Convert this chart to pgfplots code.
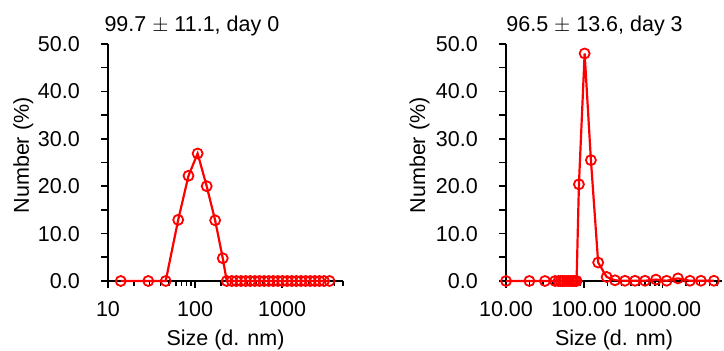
\documentclass[border=0pt]{standalone}
\usepackage{fontspec}
\setmainfont{Liberation Sans}
\usepackage{pgfplots}
\usepackage{pgfplotstable}
\pgfplotsset{compat=1.18}
\pgfplotstableread{
x y
14 0
29 0
46 0
64 12.9
84 22.2
107 26.9
136 20.0
170 12.8
208 4.8
231 0
264 0
298 0
337 0
381 0
430 0
486 0
549 0
620 0
700 0
791 0
894 0
1010 0
1141 0
1289 0
1456 0
1645 0
1858 0
2099 0
2371 0
2679 0
3026 0
3500 0
}\dayzero
\pgfplotstableread{
x y
10 0
19.9 0
31.5 0
42.4 0
47 0
50 0
53 0
56 0
60 0
64 0
68 0
72 0
76 0
80 0
85.7 20.4
101.4 48.0
122 25.5
151 3.9
194 0.85
248 0.15
333 0.05
447 0.05
600 0.05
829 0.3
1135 0.05
1585 0.55
2254 0.05
3120 0.05
4570 0.05
}\daythree
\begin{document}
\fontsize{21.5pt}{25pt}\selectfont
\begin{tikzpicture}
\useasboundingbox (0,0) rectangle (724pt,351pt);
\begin{axis}[at={(108pt,70pt)}, anchor=south west, width=235pt,
  scale only axis, xmode=log,
  ymin=0, ymax=50, height=237pt,
  axis x line=bottom, axis y line=left,
  axis line style={-, line width=2pt, black},
  tick align=outside, major tick length=7pt, minor tick length=5pt,
  tick style={black, line width=1.6pt},
  ytick={0,5,...,50},
  yticklabels={0.0,,10.0,,20.0,,30.0,,40.0,,50.0},
  xtick={10,100,1000},
  minor xtick={20,30,40,50,60,70,80,90,200,300,400,500,600,700,800,900,2000,3000,4000,5000},
  clip=false,
  xlabel={Size (d. nm)}, ylabel={Number (\%)},
  xlabel style={at={(axis description cs:0.5,-0.25)}, anchor=center},
  xticklabel style={anchor=base, yshift=-29pt},
  yticklabel style={anchor=east, inner xsep=0pt, text depth=0pt, align=right, xshift=-21pt},
  xmin=10, xmax=5000, xticklabels={10,100,1000},
  ylabel style={at={(axis description cs:-0.36,0.53)}, anchor=center}]
\addplot[red, line width=2.2pt, mark=o, mark size=5pt, mark options={line width=1.8pt, solid}] table[x=x,y=y] {\dayzero};
\node[anchor=base, yshift=12pt] at (axis description cs:0.357,1) {99.7 $\pm$ 11.1, day 0};
\end{axis}
\begin{axis}[at={(506pt,70pt)}, anchor=south west, width=216pt,
  scale only axis, xmode=log,
  ymin=0, ymax=50, height=237pt,
  axis x line=bottom, axis y line=left,
  axis line style={-, line width=2pt, black},
  tick align=outside, major tick length=7pt, minor tick length=5pt,
  tick style={black, line width=1.6pt},
  ytick={0,5,...,50},
  yticklabels={0.0,,10.0,,20.0,,30.0,,40.0,,50.0},
  xtick={10,100,1000},
  minor xtick={20,30,40,50,60,70,80,90,200,300,400,500,600,700,800,900,2000,3000,4000,5000},
  clip=false,
  xlabel={Size (d. nm)}, ylabel={Number (\%)},
  xlabel style={at={(axis description cs:0.5,-0.25)}, anchor=center},
  xticklabel style={anchor=base, yshift=-29pt},
  yticklabel style={anchor=east, inner xsep=0pt, text depth=0pt, align=right, xshift=-21pt},
  xmin=10, xmax=5800, xticklabels={10.00,100.00,1000.00},
  ylabel style={at={(axis description cs:-0.40,0.53)}, anchor=center}]
\addplot[red, line width=2.2pt, mark=o, mark size=5pt, mark options={line width=1.8pt, solid}] table[x=x,y=y] {\daythree};
\node[anchor=base, yshift=12pt] at (axis description cs:0.41,1) {96.5 $\pm$ 13.6, day 3};
\end{axis}
\end{tikzpicture}
\end{document}
